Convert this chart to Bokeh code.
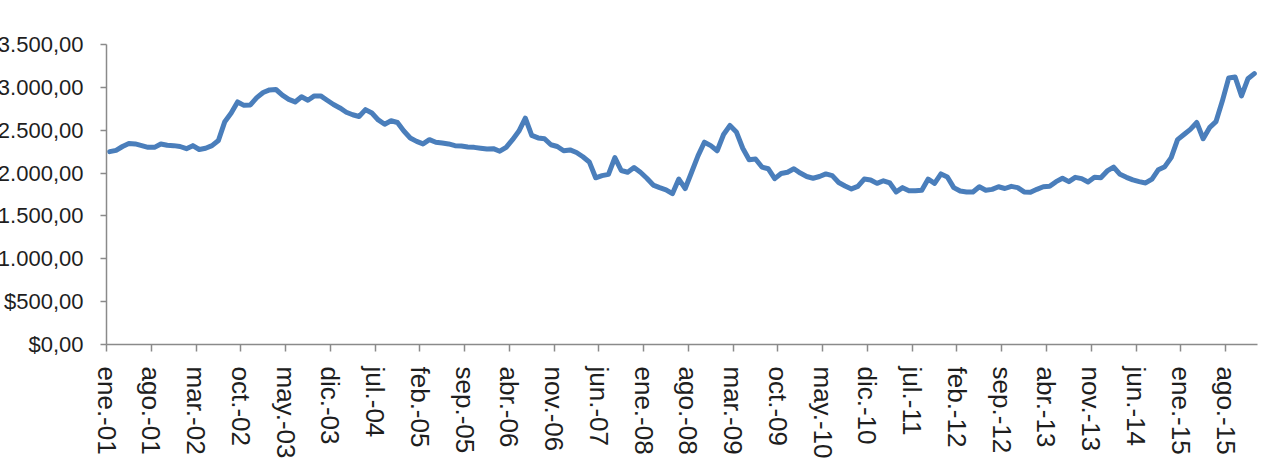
import numpy as np
from bokeh.plotting import figure
from bokeh.models import Range1d, FixedTicker
from bokeh.embed import file_html
from bokeh.resources import INLINE

# Monthly series, Jan 2001 .. Dec 2015
prices = [
    2250, 2265, 2310, 2345, 2340, 2320, 2300, 2300, 2340, 2325, 2320, 2310,
    2285, 2320, 2275, 2290, 2320, 2380, 2600, 2700, 2830, 2790, 2795, 2880,
    2940, 2970, 2975, 2910, 2860, 2830, 2890, 2850, 2900, 2900, 2850, 2800,
    2760, 2710, 2680, 2660, 2740, 2700, 2620, 2570, 2610, 2590, 2490, 2410,
    2370, 2340, 2390, 2360, 2350, 2340, 2320, 2315, 2305, 2300, 2290, 2280,
    2285, 2255, 2300, 2390, 2490, 2640, 2440, 2410, 2400, 2330, 2310, 2260,
    2270, 2240, 2190, 2130, 1945, 1970, 1985, 2180, 2030, 2010, 2065, 2010,
    1940, 1860, 1830, 1805, 1760, 1930, 1820, 2010, 2200, 2360, 2320, 2260,
    2450, 2555, 2480, 2290, 2155, 2165, 2070, 2050, 1935, 1995, 2010, 2050,
    2000, 1960, 1940, 1960, 1990, 1970, 1890, 1850, 1815, 1845, 1930, 1920,
    1880, 1910, 1885, 1780, 1830, 1795, 1795, 1800, 1930, 1880, 1990, 1955,
    1830, 1790, 1780, 1780, 1840, 1800, 1810, 1840, 1820, 1845, 1830, 1780,
    1775, 1810, 1840, 1845, 1900, 1940, 1900, 1950, 1935, 1895, 1950, 1945,
    2025, 2070, 1985, 1950, 1920, 1900, 1885, 1930, 2040, 2075, 2180, 2390,
    2450, 2510, 2590, 2400, 2530, 2600, 2840, 3110, 3120, 2900, 3100, 3160,
]

x_tick_months = [0, 7, 14, 21, 28, 35, 42, 49, 56, 63, 70, 77, 84,
                 91, 98, 105, 112, 119, 126, 133, 140, 147, 154, 161, 168, 175]
x_tick_labels = ["ene.-01", "ago.-01", "mar.-02", "oct.-02", "may.-03", "dic.-03",
                 "jul.-04", "feb.-05", "sep.-05", "abr.-06", "nov.-06", "jun.-07",
                 "ene.-08", "ago.-08", "mar.-09", "oct.-09", "may.-10", "dic.-10",
                 "jul.-11", "feb.-12", "sep.-12", "abr.-13", "nov.-13", "jun.-14",
                 "ene.-15", "ago.-15"]

y_ticks = [0, 500, 1000, 1500, 2000, 2500, 3000, 3500]
y_tick_labels = ["$0,00", "$500,00", "$1.000,00", "$1.500,00", "$2.000,00",
                 "$2.500,00", "$3.000,00", "$3.500,00"]

n = len(prices)
xs = np.arange(n) + 0.5

# The reference crops the widest y labels at the left edge: the canvas is
# wider than the window and shifted left by that amount.
shift = 18
p = figure(width=1275 + shift, height=473, output_backend="svg", toolbar_location=None,
           x_range=Range1d(0, n), y_range=Range1d(0, 3500),
           min_border_left=103 + shift, min_border_right=18,
           min_border_top=44, min_border_bottom=129)
p.styles = {"margin-left": f"-{shift}px"}
p.outline_line_color = None
p.xgrid.visible = False
p.ygrid.visible = False
p.background_fill_color = "white"
p.border_fill_color = "white"

p.line(xs, prices, line_width=5, line_color="#4A7EBB",
       line_join="round", line_cap="round")

axis_col = "#8a8a8a"
text_col = "#1e1e1e"

xa = p.xaxis[0]
xa.ticker = FixedTicker(ticks=x_tick_months)
xa.major_label_overrides = {t: l for t, l in zip(x_tick_months, x_tick_labels)}
xa.major_label_orientation = "vertical"
xa.major_label_text_font = "Liberation Sans"
xa.major_label_text_font_size = "26px"
xa.major_label_text_color = text_col
xa.major_label_standoff = 15
xa.axis_line_color = axis_col
xa.axis_line_width = 1.5
xa.major_tick_line_color = axis_col
xa.major_tick_line_width = 1.5
xa.major_tick_out = 7
xa.major_tick_in = 0
xa.minor_tick_line_color = None

ya = p.yaxis[0]
ya.ticker = FixedTicker(ticks=y_ticks)
ya.major_label_overrides = {t: l for t, l in zip(y_ticks, y_tick_labels)}
ya.major_label_text_font = "Liberation Sans"
ya.major_label_text_font_size = "22px"
ya.major_label_text_color = text_col
ya.major_label_standoff = 17
ya.axis_line_color = axis_col
ya.axis_line_width = 1.5
ya.major_tick_line_color = axis_col
ya.major_tick_line_width = 1.5
ya.major_tick_out = 6
ya.major_tick_in = 0
ya.minor_tick_line_color = None

open("out.html", "w").write(file_html(p, INLINE))
